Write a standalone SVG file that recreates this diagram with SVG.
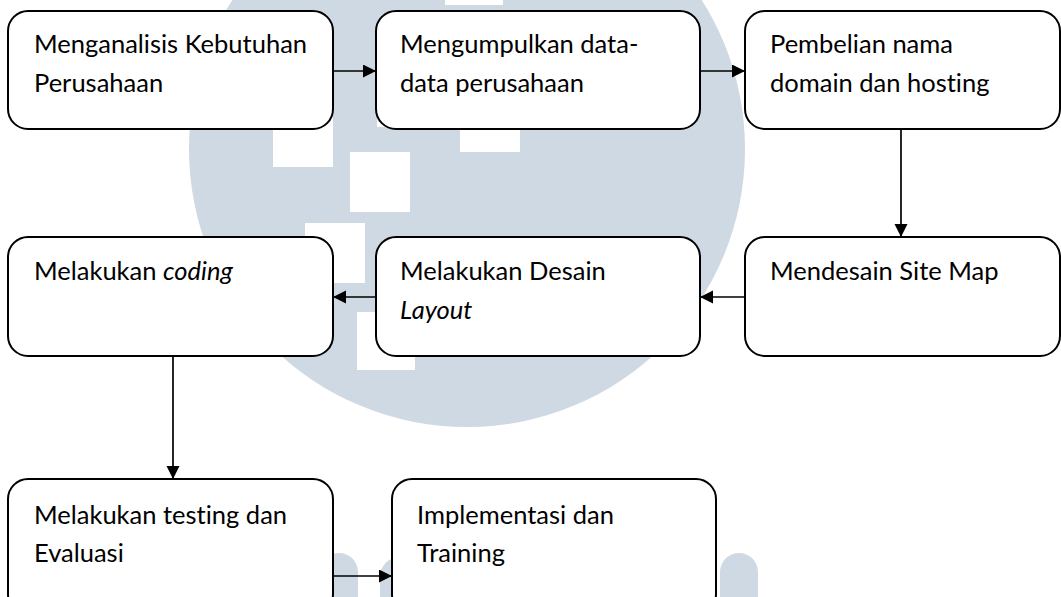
<svg xmlns="http://www.w3.org/2000/svg" width="1061" height="597" viewBox="0 0 1061 597">
<style>
.wm{fill:#cfd9e3}
.wh{fill:#ffffff}
.box{fill:#ffffff;stroke:#000000;stroke-width:2}
.lbl{font-family:Lato,"Open Sans",sans-serif;font-size:25.5px;fill:#000000;font-variant-ligatures:none;font-feature-settings:"liga" 0,"dlig" 0}
.it{font-style:italic}
.con{stroke:#000000;stroke-width:1.7;fill:none;marker-end:url(#arr)}
</style>
<defs>
<marker id="arr" markerUnits="userSpaceOnUse" markerWidth="14" markerHeight="14" refX="13" refY="6.5" orient="auto">
<path d="M0,0 L13,6.5 L0,13 Z" fill="#000000"/>
</marker>
</defs>
<rect width="1061" height="597" fill="#ffffff"/>
<g id="watermark">
<circle class="wm" cx="467" cy="149" r="278"/>
<rect class="wh" x="445" y="-10" width="58" height="15"/>
<rect class="wh" x="377" y="67" width="60" height="60"/>
<rect class="wh" x="273" y="107" width="60" height="60"/>
<rect class="wh" x="460" y="92" width="60" height="60"/>
<rect class="wh" x="350" y="152" width="60" height="60"/>
<rect class="wh" x="305" y="223" width="60" height="60"/>
<rect class="wh" x="357" y="312" width="58" height="58"/>
<rect class="wm" x="320" y="553" width="38" height="70" rx="19"/>
<rect class="wm" x="380" y="557" width="40" height="70" rx="20"/>
<rect class="wm" x="720" y="553" width="38" height="70" rx="19"/>
</g>
<g id="connectors">
<line class="con" x1="333" y1="71" x2="376" y2="71"/>
<line class="con" x1="700" y1="71" x2="745" y2="71"/>
<line class="con" x1="901" y1="129" x2="901" y2="237"/>
<line class="con" x1="745" y1="297" x2="700" y2="297"/>
<line class="con" x1="376" y1="297" x2="333" y2="297"/>
<line class="con" x1="173" y1="356" x2="173" y2="479"/>
<line class="con" x1="333" y1="576" x2="392" y2="576"/>
</g>
<g id="n1">
<rect class="box" x="8" y="11" width="325" height="118" rx="20"/>
<text class="lbl" x="34" y="53">Menganalisis Kebutuhan</text>
<text class="lbl" x="34" y="92">Perusahaan</text>
</g>
<g id="n2">
<rect class="box" x="376" y="11" width="324" height="118" rx="20"/>
<text class="lbl" x="400" y="53">Mengumpulkan data-</text>
<text class="lbl" x="400" y="92">data perusahaan</text>
</g>
<g id="n3">
<rect class="box" x="745" y="11" width="315" height="118" rx="20"/>
<text class="lbl" x="770" y="53">Pembelian nama</text>
<text class="lbl" x="770" y="92">domain dan hosting</text>
</g>
<g id="n4">
<rect class="box" x="745" y="237" width="315" height="119" rx="20"/>
<text class="lbl" x="770" y="280">Mendesain Site Map</text>
</g>
<g id="n5">
<rect class="box" x="376" y="237" width="324" height="119" rx="20"/>
<text class="lbl" x="400" y="280">Melakukan Desain</text>
<text class="lbl it" x="400" y="319">Layout</text>
</g>
<g id="n6">
<rect class="box" x="8" y="237" width="325" height="119" rx="20"/>
<text class="lbl" x="34" y="280">Melakukan <tspan class="it">coding</tspan></text>
</g>
<g id="n7">
<rect class="box" x="8" y="479" width="325" height="135" rx="20"/>
<text class="lbl" x="34" y="524">Melakukan testing dan</text>
<text class="lbl" x="34" y="562">Evaluasi</text>
</g>
<g id="n8">
<rect class="box" x="392" y="479" width="324" height="135" rx="20"/>
<text class="lbl" x="417" y="524">Implementasi dan</text>
<text class="lbl" x="417" y="562">Training</text>
</g>
</svg>
